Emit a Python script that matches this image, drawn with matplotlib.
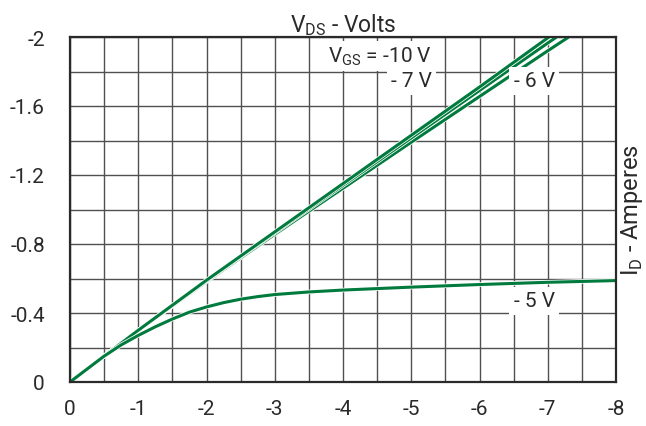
import matplotlib
matplotlib.use("Agg")
import matplotlib.pyplot as plt
import matplotlib.patheffects as pe
from matplotlib.ticker import MultipleLocator

plt.rcParams["font.family"] = ["Roboto", "DejaVu Sans"]
plt.rcParams["axes.unicode_minus"] = False

# V_DS (V) and I_D (A)
vds = [0, -0.5, -1, -1.5, -2, -2.5, -3, -3.5, -4, -5, -6, -7, -7.5]
id_10v = [0, -0.15, -0.30, -0.445, -0.59, -0.73, -0.87, -1.01, -1.15, -1.43, -1.71, -1.995, -2.13]
id_7v = [0, -0.15, -0.30, -0.443, -0.587, -0.727, -0.865, -1.003, -1.14, -1.415, -1.69, -1.965, -2.10]
id_6v = [0, -0.15, -0.298, -0.44, -0.582, -0.72, -0.856, -0.99, -1.123, -1.39, -1.655, -1.92, -2.05]

vds_5v = [0, -0.25, -0.5, -0.75, -1, -1.25, -1.5, -1.75, -2, -2.25, -2.5, -2.75, -3, -3.5, -4,
          -5, -6, -7, -8]
id_5v = [0, -0.075, -0.15, -0.215, -0.27, -0.32, -0.365, -0.405, -0.435, -0.46, -0.48, -0.495,
         -0.507, -0.522, -0.533, -0.55, -0.565, -0.578, -0.588]

x_ticks = [0, -1, -2, -3, -4, -5, -6, -7, -8]
y_ticks = [0, -0.4, -0.8, -1.2, -1.6, -2]
y_tick_labels = ["0", "-0.4", "-0.8", "-1.2", "-1.6", "-2"]

GREEN = "#007a3d"
TXT = "#2a2a2a"

fig = plt.figure(figsize=(6.46, 4.27), dpi=100)
ax = fig.add_axes([70 / 646, 1 - 383 / 427, (616 - 70) / 646, (383 - 38) / 427])

ax.set_xlim(0, -8)
ax.set_ylim(0, -2)
ax.xaxis.set_minor_locator(MultipleLocator(0.5))
ax.yaxis.set_minor_locator(MultipleLocator(0.2))
ax.set_xticks(x_ticks)
ax.set_yticks(y_ticks)
ax.set_yticklabels(y_tick_labels)
ax.grid(True, which="both", color="#505050", lw=1.0)
ax.set_axisbelow(True)
ax.tick_params(which="both", length=0, labelsize=15, colors=TXT)
ax.tick_params(axis="y", pad=18)
ax.tick_params(axis="x", pad=12)
for s in ax.spines.values():
    s.set_color(TXT)
    s.set_linewidth(1.6)

outline = [pe.Stroke(linewidth=3.3, foreground="white"), pe.Normal()]
for y in (id_6v, id_7v, id_10v):
    ax.plot(vds, y, color=GREEN, lw=2.2, path_effects=outline, solid_capstyle="butt")
ax.plot(vds_5v, id_5v, color=GREEN, lw=2.2, path_effects=outline, solid_joinstyle="round")

box = dict(facecolor="white", edgecolor="none", pad=3)
kw = dict(fontsize=15, color=TXT, bbox=box)
ax.text(-5.3, -1.89, r"V$_{\mathregular{GS}}$ = -10 V", ha="right", va="center", **kw)
ax.text(-5.3, -1.745, "- 7 V", ha="right", va="center", **kw)
ax.text(-6.8, -1.745, "- 6 V", ha="center", va="center", **kw)
ax.text(-6.8, -0.47, "- 5 V", ha="center", va="center", **kw)

ax.set_title(r"V$_{\mathregular{DS}}$ - Volts", fontsize=16.5, color=TXT, pad=3)
ax.yaxis.set_label_position("right")
ax.set_ylabel(r"I$_{\mathregular{D}}$ - Amperes", fontsize=17, color=TXT, labelpad=2)

fig.savefig("out.png", dpi=100)
